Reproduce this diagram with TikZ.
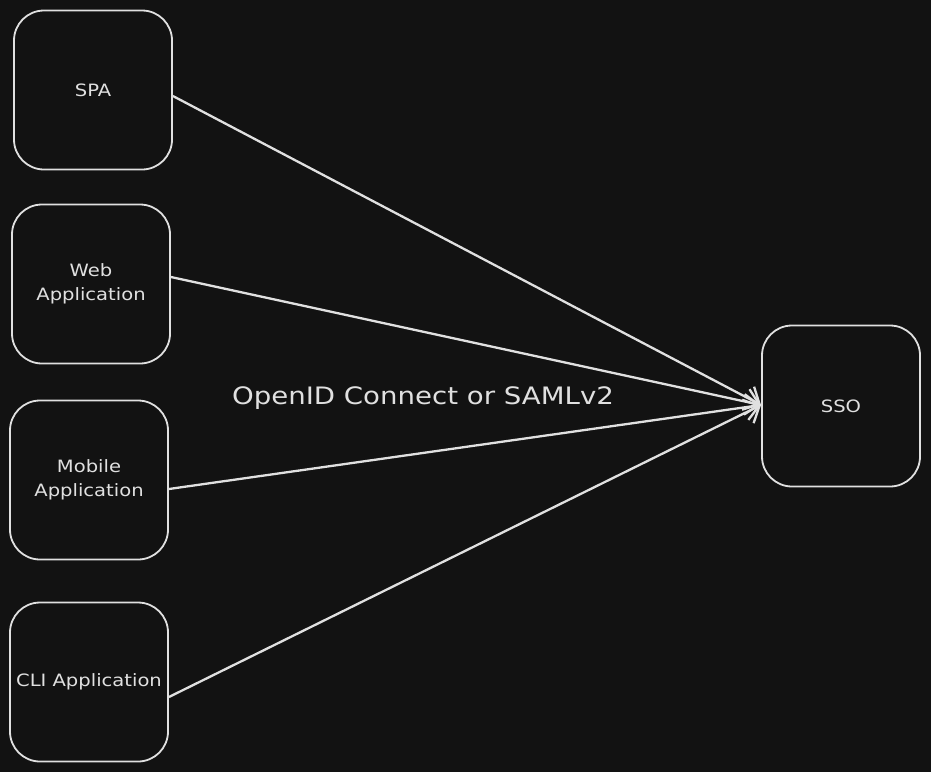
\documentclass[tikz,border=0pt]{standalone}
\usepackage{fontspec}
\setmainfont{DejaVu Sans}[FakeStretch=1.15]
\usetikzlibrary{arrows.meta}
\definecolor{bg}{HTML}{121212}
\definecolor{ink}{HTML}{E0E0E0}
\begin{document}
\begin{tikzpicture}[x=1pt,y=-1pt,
  box/.style={draw=ink,line width=1.8pt,rounded corners=30pt,minimum width=158pt,minimum height=159pt,align=center,text=ink,font=\fontsize{17}{24}\selectfont,inner sep=0pt},
  conn/.style={draw=ink,line width=2.3pt,-{Straight Barb[length=13pt,width=26pt,line width=2.3pt]}}]
\fill[bg] (0,0) rectangle (931,772);
\useasboundingbox (0,0) rectangle (931,772);
\node[box] (spa) at (93,90) {SPA};
\node[box] (web) at (91,284) {Web\\Application};
\node[box] (mob) at (89,480) {Mobile\\Application};
\node[box] (cli) at (89,682) {CLI Application};
\node[box,minimum height=161pt] (sso) at (841,406) {SSO};
\coordinate (tip) at (761,405);
\draw[conn] (spa.east |- 0,96) -- (tip);
\draw[conn] (web.east |- 0,277) -- (tip);
\draw[conn] (mob.east |- 0,489) -- (tip);
\draw[conn] (cli.east |- 0,697) -- (tip);
\node[text=ink,font=\fontsize{24}{28}\selectfont] (lbl) at (423,398) {OpenID Connect or SAMLv2};
\end{tikzpicture}
\end{document}
